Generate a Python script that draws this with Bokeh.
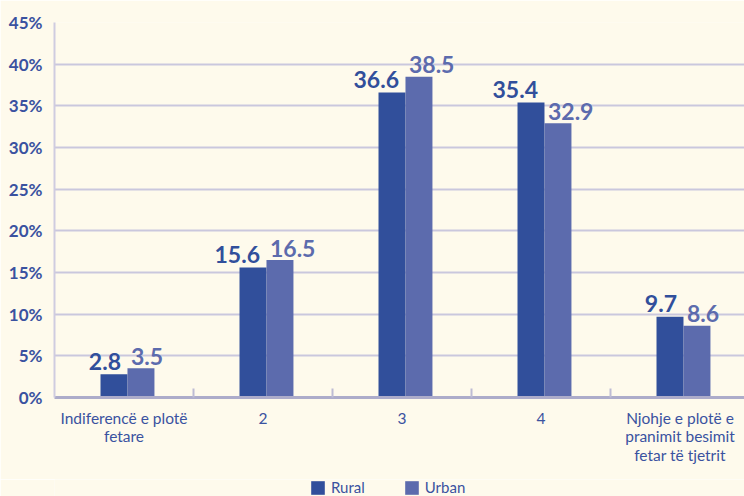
from bokeh.plotting import figure
from bokeh.layouts import column
from bokeh.models import (ColumnDataSource, Range1d, FixedTicker, PrintfTickFormatter,
                          Legend, LegendItem)
from bokeh.transform import dodge
from bokeh.core.properties import value
from bokeh.embed import file_html
from bokeh.resources import INLINE

# ---- data ----
categories = ["Indiferencë e plotë\nfetare", "2", "3", "4",
              "Njohje e plotë e\npranimit besimit\nfetar të tjetrit"]
rural = [2.8, 15.6, 36.6, 35.4, 9.7]
urban = [3.5, 16.5, 38.5, 32.9, 8.6]
series_names = ["Rural", "Urban"]
y_ticks = [0, 5, 10, 15, 20, 25, 30, 35, 40, 45]

BG = "#fefaec"
C_RURAL = "#314f9b"
C_URBAN = "#5c6bad"
TXT = "#3a52a0"
GRID = "#cac7dd"
FONT = "Lato"

idx = list(range(len(categories)))
src = ColumnDataSource(dict(
    x=idx, rural=rural, urban=urban,
    rural_lbl=[f"{v:.1f}" for v in rural],
    urban_lbl=[f"{v:.1f}" for v in urban],
))

p = figure(width=744, height=479, output_backend="svg", toolbar_location=None,
           x_range=Range1d(-0.5, 4.464), y_range=Range1d(0, 45),
           min_border_left=54, min_border_right=0, min_border_top=22,
           min_border_bottom=82)
p.background_fill_color = BG
p.border_fill_color = BG
p.outline_line_color = None

R_OFF, U_OFF, W = -0.072, 0.122, 0.194
r1 = p.vbar(x=dodge("x", R_OFF, range=p.x_range), top="rural", width=W, source=src,
            fill_color=C_RURAL, line_color=None)
r2 = p.vbar(x=dodge("x", U_OFF, range=p.x_range), top="urban", width=W, source=src,
            fill_color=C_URBAN, line_color=None)

p.text(x=dodge("x", R_OFF, range=p.x_range), y="rural", text="rural_lbl", source=src,
       text_align="right", text_baseline="alphabetic", x_offset=7, y_offset=-13,
       text_font=value(FONT), text_font_style="bold", text_font_size="23px",
       text_color=C_RURAL)
p.text(x=dodge("x", U_OFF, range=p.x_range), y="urban", text="urban_lbl", source=src,
       text_align="left", text_baseline="alphabetic", x_offset=-10, y_offset=-12,
       text_font=value(FONT), text_font_style="bold", text_font_size="23px",
       text_color=C_URBAN)

# grid
p.xgrid.grid_line_color = None
p.ygrid.ticker = FixedTicker(ticks=y_ticks)
p.ygrid.grid_line_color = GRID
p.ygrid.grid_line_width = 2

# y axis
ya = p.yaxis[0]
ya.ticker = FixedTicker(ticks=y_ticks)
ya.formatter = PrintfTickFormatter(format="%d%%")
ya.axis_line_color = "#cfcce0"
ya.axis_line_width = 2
ya.major_tick_line_color = None
ya.minor_tick_line_color = None
ya.major_label_standoff = 6
ya.major_label_text_font = FONT
ya.major_label_text_font_style = "bold"
ya.major_label_text_font_size = "17px"
ya.major_label_text_color = TXT

# x axis
xa = p.xaxis[0]
xa.ticker = FixedTicker(ticks=idx, minor_ticks=[0.5, 1.5, 2.5, 3.5])
xa.major_label_overrides = {i: c for i, c in zip(idx, categories)}
xa.axis_line_color = "#adacca"
xa.axis_line_width = 3
xa.major_tick_line_color = None
xa.minor_tick_in = 9
xa.minor_tick_out = 0
xa.minor_tick_line_color = "#bebcd4"
xa.minor_tick_line_width = 2
xa.major_label_standoff = 5
xa.major_label_text_font = FONT
xa.major_label_text_font_size = "15.5px"
xa.major_label_text_color = TXT
xa.major_label_text_line_height = 1.03

# ---- legend strip below the chart ----
lg = figure(width=744, height=17, output_backend="svg", toolbar_location=None,
            x_range=Range1d(100, 101), y_range=Range1d(100, 101),
            x_axis_type=None, y_axis_type=None,
            min_border_left=0, min_border_right=0, min_border_top=0,
            min_border_bottom=0)
lg.background_fill_color = BG
lg.border_fill_color = BG
lg.outline_line_color = None
lg.grid.grid_line_color = None
g1 = lg.vbar(x="x", top="rural", width=W, source=src, fill_color=C_RURAL, line_color=None)
g2 = lg.vbar(x="x", top="urban", width=W, source=src, fill_color=C_URBAN, line_color=None)
legend = Legend(items=[LegendItem(label=series_names[0], renderers=[g1]),
                       LegendItem(label=series_names[1], renderers=[g2])],
                orientation="horizontal", location=(255, 0),
                glyph_width=17, glyph_height=17, label_standoff=5, spacing=38,
                padding=0, margin=0, border_line_color=None,
                background_fill_alpha=0, label_height=17,
                label_text_font=FONT, label_text_font_size="15px",
                label_text_color=TXT, label_text_baseline="top")
lg.add_layout(legend, "center")

open("out.html", "w").write(file_html(column(p, lg, spacing=0), INLINE))
